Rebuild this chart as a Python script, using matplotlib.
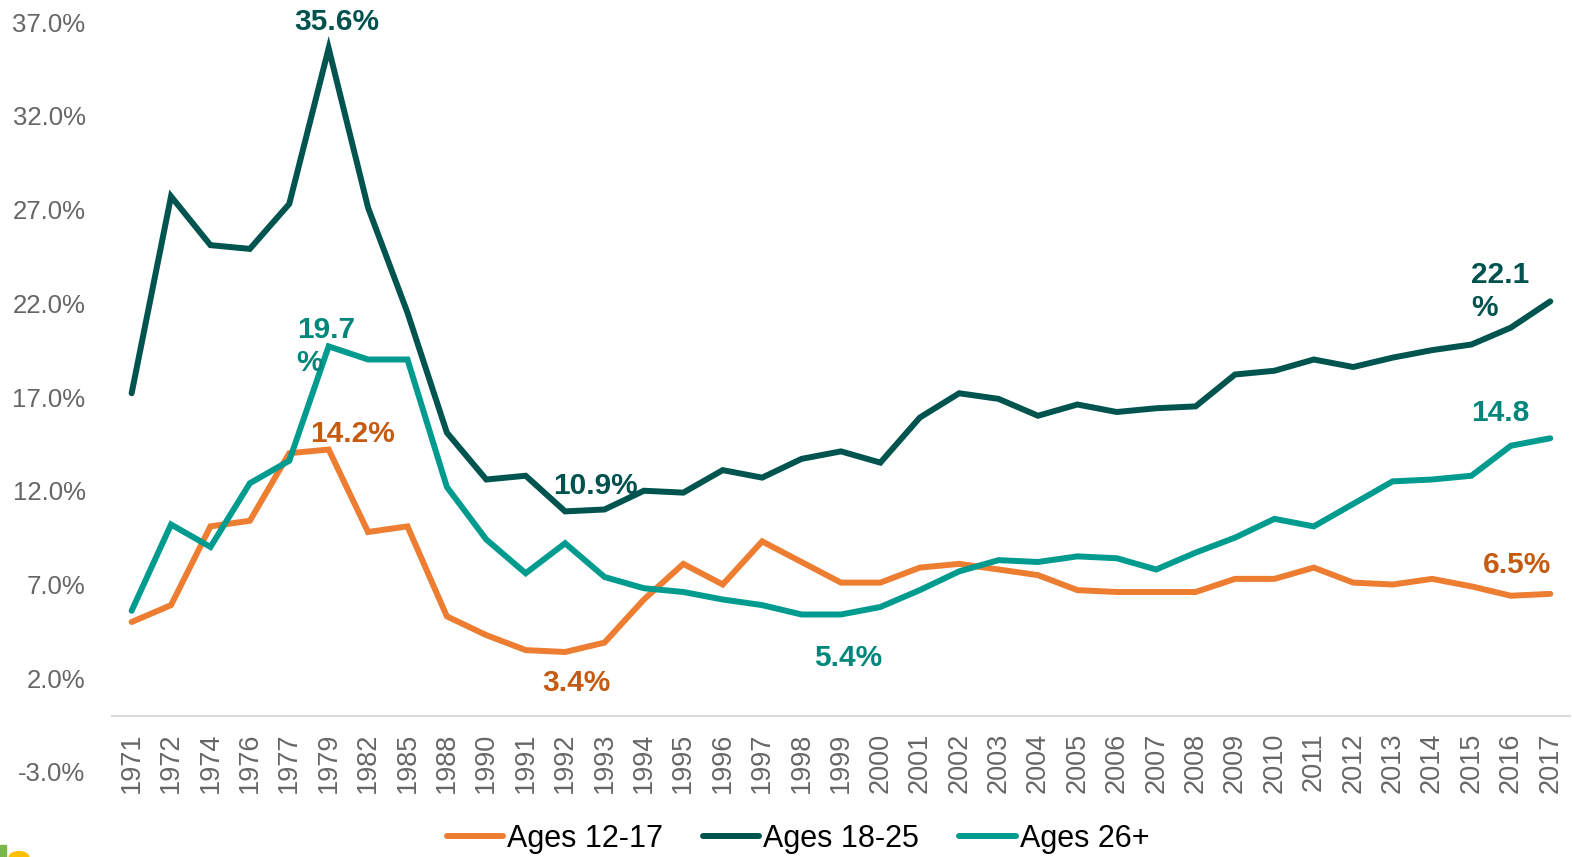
"""
Past-month use by age group, 1971-2017 (line chart with call-out labels).
Saves out.png.
"""

import matplotlib.pyplot as plt
from matplotlib.patches import Circle, Rectangle
from matplotlib.ticker import FuncFormatter

plt.rcParams["font.family"] = ["Liberation Sans", "DejaVu Sans"]

years = ["1971", "1972", "1974", "1976", "1977", "1979", "1982", "1985", "1988",
         "1990", "1991", "1992", "1993", "1994", "1995", "1996", "1997", "1998",
         "1999", "2000", "2001", "2002", "2003", "2004", "2005", "2006", "2007",
         "2008", "2009", "2010", "2011", "2012", "2013", "2014", "2015", "2016",
         "2017"]

ages_12_17 = [5.0, 5.9, 10.1, 10.4, 14.0, 14.2, 9.8, 10.1, 5.3,
              4.3, 3.5, 3.4, 3.9, 6.2, 8.1, 7.0, 9.3, 8.2,
              7.1, 7.1, 7.9, 8.1, 7.8, 7.5, 6.7, 6.6, 6.6,
              6.6, 7.3, 7.3, 7.9, 7.1, 7.0, 7.3, 6.9, 6.4,
              6.5]

ages_18_25 = [17.2, 27.7, 25.1, 24.9, 27.3, 35.6, 27.1, 21.5, 15.1,
              12.6, 12.8, 10.9, 11.0, 12.0, 11.9, 13.1, 12.7, 13.7,
              14.1, 13.5, 15.9, 17.2, 16.9, 16.0, 16.6, 16.2, 16.4,
              16.5, 18.2, 18.4, 19.0, 18.6, 19.1, 19.5, 19.8, 20.7,
              22.1]

ages_26_plus = [5.6, 10.2, 9.0, 12.4, 13.6, 19.7, 19.0, 19.0, 12.2,
                9.4, 7.6, 9.2, 7.4, 6.8, 6.6, 6.2, 5.9, 5.4,
                5.4, 5.8, 6.7, 7.7, 8.3, 8.2, 8.5, 8.4, 7.8,
                8.7, 9.5, 10.5, 10.1, 11.3, 12.5, 12.6, 12.8, 14.4,
                14.8]

y_ticks = [-3, 2, 7, 12, 17, 22, 27, 32, 37]

ORANGE = "#ED7D31"
DARK = "#00544F"
TEAL = "#009B8F"
ORANGE_TXT = "#C55A11"
DARK_TXT = "#00524E"
TEAL_TXT = "#00877C"

# (series, year, text, colour, offset in points, ha, va)
callouts = [
    ("18-25", "1979", "35.6%", DARK_TXT, (6, 19), "center", "center"),
    ("26+", "1979", "19.7\n%", TEAL_TXT, (-23, 0), "left", "center"),
    ("12-17", "1979", "14.2%", ORANGE_TXT, (17, 11), "center", "center"),
    ("18-25", "1992", "10.9%", DARK_TXT, (22, 18), "center", "center"),
    ("12-17", "1992", "3.4%", ORANGE_TXT, (8, -22), "center", "center"),
    ("26+", "1999", "5.4%", TEAL_TXT, (5, -31), "center", "center"),
    ("18-25", "2017", "22.1\n%", DARK_TXT, (-57, 7), "left", "center"),
    ("26+", "2017", "14.8", TEAL_TXT, (-57, 18), "left", "center"),
    ("12-17", "2017", "6.5%", ORANGE_TXT, (-24, 21), "center", "center"),
]


def main() -> None:
    fig = plt.figure(figsize=(15.72, 8.57), dpi=100)
    ax = fig.add_axes([0.0712, 0.0992, 0.9275, 0.8751])

    x = list(range(len(years)))
    series = {
        "12-17": (ages_12_17, ORANGE, "Ages 12-17"),
        "18-25": (ages_18_25, DARK, "Ages 18-25"),
        "26+": (ages_26_plus, TEAL, "Ages 26+"),
    }
    for key, (vals, col, lab) in series.items():
        ax.plot(x, vals, color=col, linewidth=4.3, label=lab,
                solid_joinstyle="miter", solid_capstyle="round")

    for key, yr, txt, col, off, ha, va in callouts:
        i = years.index(yr)
        ax.annotate(txt, xy=(i, series[key][0][i]), xytext=off,
                    textcoords="offset points", ha=ha, va=va,
                    fontsize=21.5, fontweight="bold", color=col,
                    linespacing=1.2)

    # move the x axis line to y = 0 first: this resets the tick labels
    for s in ("left", "right", "top"):
        ax.spines[s].set_visible(False)
    ax.spines["bottom"].set_position(("data", 0))
    ax.spines["bottom"].set_color("#D9D9D9")
    ax.spines["bottom"].set_linewidth(1.5)

    ax.set_xlim(-0.5, len(years) - 0.5)
    ax.set_ylim(-3, 37)
    ax.set_yticks(y_ticks)
    ax.yaxis.set_major_formatter(FuncFormatter(lambda v, p: f"{v:.1f}%"))
    ax.set_xticks(x)
    ax.set_xticklabels(years)

    ax.tick_params(axis="y", length=0, pad=19, labelsize=18.5, labelcolor="#666666")
    ax.tick_params(axis="x", length=0, pad=12, labelsize=19.5, labelcolor="#666666",
                   labelrotation=90)

    fig.legend(loc="center", bbox_to_anchor=(0.5076, 0.021), ncol=3,
               frameon=False, fontsize=22, handlelength=1.85,
               handletextpad=0.13, columnspacing=1.3)

    # cut-off logo at the bottom-left corner
    fig.patches.append(Rectangle((0, 0), 0.004, 0.014, color="#7AB648",
                                 transform=fig.transFigure, figure=fig))
    fig.patches.append(Circle((0.0121, 0.0), 0.0062, color="#FFC000",
                              transform=fig.transFigure, figure=fig))

    fig.savefig("out.png", dpi=100)
    plt.close(fig)


if __name__ == "__main__":
    main()
